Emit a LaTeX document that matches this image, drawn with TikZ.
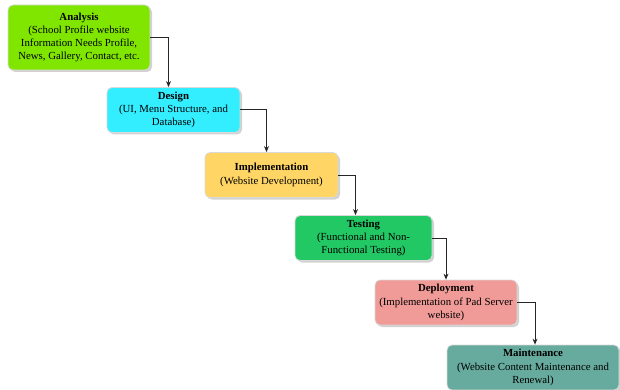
\documentclass[tikz,border=0pt]{standalone}
\usepackage{fontspec}
\setmainfont{Liberation Serif}
\usetikzlibrary{shadows,arrows.meta}
\definecolor{mylime}{RGB}{128,230,0}
\definecolor{mycyan}{RGB}{51,238,255}
\definecolor{myyellow}{RGB}{255,214,102}
\definecolor{mygreen}{RGB}{34,200,100}
\definecolor{mypink}{RGB}{240,155,152}
\definecolor{myteal}{RGB}{103,171,159}
\newcommand{\phase}[2]{\textbf{#1}\\#2}
\tikzset{
    common/.style={draw=white!85!black, line width=0.8pt, rounded corners=5pt, align=center,
        inner sep=2pt, font=\fontsize{10.8}{13.2}\selectfont,
        drop shadow={shadow xshift=2pt, shadow yshift=-2pt, fill=black!35}},
    phasebox/.style={common, minimum height=45pt},
    flow/.style={-{Stealth[length=6pt,width=5pt]}, draw=black!85, line width=1pt}
}

\begin{document}
\begin{tikzpicture}[x=1pt, y=-1pt]
    \useasboundingbox (0,0) rectangle (620,390);
    \node[phasebox, fill=mylime, minimum width=142pt, minimum height=65pt] (analysis) at (79,37.5)
        {\phase{Analysis}{(School Profile website\\Information Needs Profile,\\News, Gallery, Contact, etc.}};
    \node[phasebox, fill=mycyan, minimum width=133pt] (design) at (173.5,110)
        {\phase{Design}{(UI, Menu Structure, and\\Database)}};
    \node[phasebox, fill=myyellow, minimum width=133pt] (impl) at (271.5,175)
        {\phase{Implementation}{(Website Development)}};
    \node[phasebox, fill=mygreen, minimum width=137pt] (testing) at (363.5,238)
        {\phase{Testing}{(Functional and Non-\\Functional Testing)}};
    \node[phasebox, fill=mypink, minimum width=142pt] (deploy) at (446,302.5)
        {\phase{Deployment}{(Implementation of Pad Server\\website)}};
    \node[phasebox, fill=myteal, minimum width=172pt] (maint) at (533,367.5)
        {\phase{Maintenance}{(Website Content Maintenance and\\Renewal)}};

    \draw[flow] (analysis.east) -| ([xshift=-5pt]design.north);
    \draw[flow] (design.east) -| ([xshift=-5pt]impl.north);
    \draw[flow] (impl.east) -| ([xshift=-8pt]testing.north);
    \draw[flow] (testing.east) -| (deploy.north);
    \draw[flow] (deploy.east) -| ([xshift=2pt]maint.north);
\end{tikzpicture}
\end{document}
